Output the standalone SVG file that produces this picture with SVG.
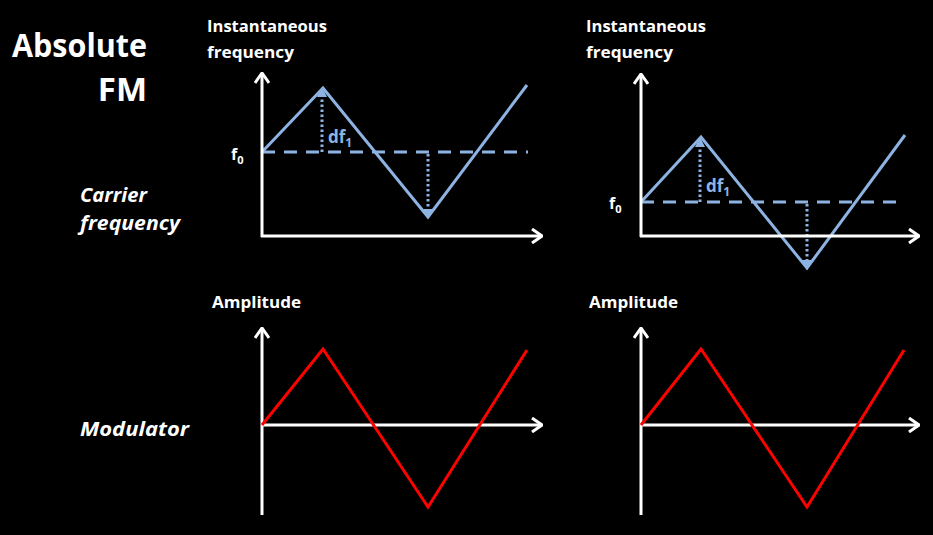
<svg xmlns="http://www.w3.org/2000/svg" width="933" height="535" viewBox="0 0 933 535">
<defs>
<style>
.t{font-family:"Open Sans","Noto Sans","Liberation Sans",sans-serif;font-weight:bold;fill:#fff}
.ti{font-family:"Open Sans","Noto Sans","Liberation Sans",sans-serif;font-weight:bold;font-style:italic;fill:#fff}
.ax{stroke:#fff;stroke-width:3;fill:none;marker-end:url(#open)}
.blue{stroke:#8DB3E2;stroke-width:3;fill:none;stroke-linejoin:miter}
.dash{stroke:#8DB3E2;stroke-width:3;fill:none;stroke-dasharray:13 9}
.dot{stroke:#8DB3E2;stroke-width:3;fill:none;stroke-dasharray:2.5 2.5;marker-end:url(#tri)}
.red{stroke:#FF0000;stroke-width:3;fill:none}
.lb{font-family:"Open Sans","Noto Sans","Liberation Sans",sans-serif;font-weight:bold;fill:#8DB3E2}
</style>
<marker id="open" viewBox="0 0 12 16" refX="11" refY="8" markerWidth="12" markerHeight="16" markerUnits="userSpaceOnUse" orient="auto">
<path d="M1,1 L11,8 L1,15" stroke="#fff" stroke-width="3" fill="none"/>
</marker>
<marker id="tri" viewBox="0 0 10 10" refX="9" refY="5" markerWidth="10" markerHeight="10" markerUnits="userSpaceOnUse" orient="auto">
<path d="M0,0 L10,5 L0,10 z" fill="#8DB3E2"/>
</marker>
</defs>
<rect width="933" height="535" fill="#000"/>

<g id="title">
<text class="t" x="12" y="57" font-size="33" textLength="135" lengthAdjust="spacingAndGlyphs">Absolute</text>
<text class="t" x="147" y="101" font-size="33" text-anchor="end">FM</text>
</g>
<g id="row-labels">
<text class="ti" x="80" y="202" font-size="20" textLength="67" lengthAdjust="spacingAndGlyphs">Carrier</text>
<text class="ti" x="80" y="230" font-size="20" textLength="100" lengthAdjust="spacingAndGlyphs">frequency</text>
<text class="ti" x="80" y="436" font-size="20" textLength="109" lengthAdjust="spacingAndGlyphs">Modulator</text>
</g>

<g id="graph-top-left">
<text class="t" x="207" y="32" font-size="16" textLength="120" lengthAdjust="spacingAndGlyphs">Instantaneous</text>
<text class="t" x="207" y="58" font-size="16" textLength="87" lengthAdjust="spacingAndGlyphs">frequency</text>
<text class="t" x="231" y="160" font-size="16">f<tspan font-size="11" dy="4">0</tspan></text>
<text class="lb" x="328" y="143" font-size="17">df<tspan font-size="12" dy="4">1</tspan></text>
</g>
<g id="graph-top-right">
<text class="t" x="586" y="32" font-size="16" textLength="120" lengthAdjust="spacingAndGlyphs">Instantaneous</text>
<text class="t" x="586" y="58" font-size="16" textLength="87" lengthAdjust="spacingAndGlyphs">frequency</text>
<text class="t" x="609" y="209" font-size="16">f<tspan font-size="11" dy="4">0</tspan></text>
<text class="lb" x="706" y="192" font-size="17">df<tspan font-size="12" dy="4">1</tspan></text>
</g>
<g id="graph-bottom-left">
<text class="t" x="212" y="308" font-size="16" textLength="89" lengthAdjust="spacingAndGlyphs">Amplitude</text>
</g>
<g id="graph-bottom-right">
<text class="t" x="589" y="308" font-size="16" textLength="89" lengthAdjust="spacingAndGlyphs">Amplitude</text>
</g>

<g id="connectors">
<!-- top left -->
<line class="dash" x1="262" y1="152" x2="528" y2="152"/>
<polyline class="blue" points="262,152 323,88 428,217 527,85"/>
<line class="dot" x1="322" y1="152" x2="322" y2="88"/>
<line class="dot" x1="428" y1="154" x2="428" y2="218"/>
<line class="ax" x1="262" y1="237" x2="262" y2="73"/>
<line class="ax" x1="261" y1="236" x2="542" y2="236"/>
<!-- top right -->
<line class="dash" x1="641" y1="202" x2="905" y2="202"/>
<polyline class="blue" points="641,202 701,137 807,268 905,135"/>
<line class="dot" x1="700" y1="202" x2="700" y2="138"/>
<line class="dot" x1="807" y1="204" x2="807" y2="269"/>
<line class="ax" x1="641" y1="237" x2="641" y2="74"/>
<line class="ax" x1="640" y1="236" x2="919" y2="236"/>
<!-- bottom left -->
<line class="ax" x1="262" y1="515" x2="262" y2="328"/>
<line class="ax" x1="262" y1="425" x2="542" y2="425"/>
<polyline class="red" points="262,425 323,349 428,507 527,350"/>
<!-- bottom right -->
<line class="ax" x1="641" y1="515" x2="641" y2="328"/>
<line class="ax" x1="641" y1="425" x2="919" y2="425"/>
<polyline class="red" points="641,425 701,349 807,507 904,350"/>
</g>
</svg>
